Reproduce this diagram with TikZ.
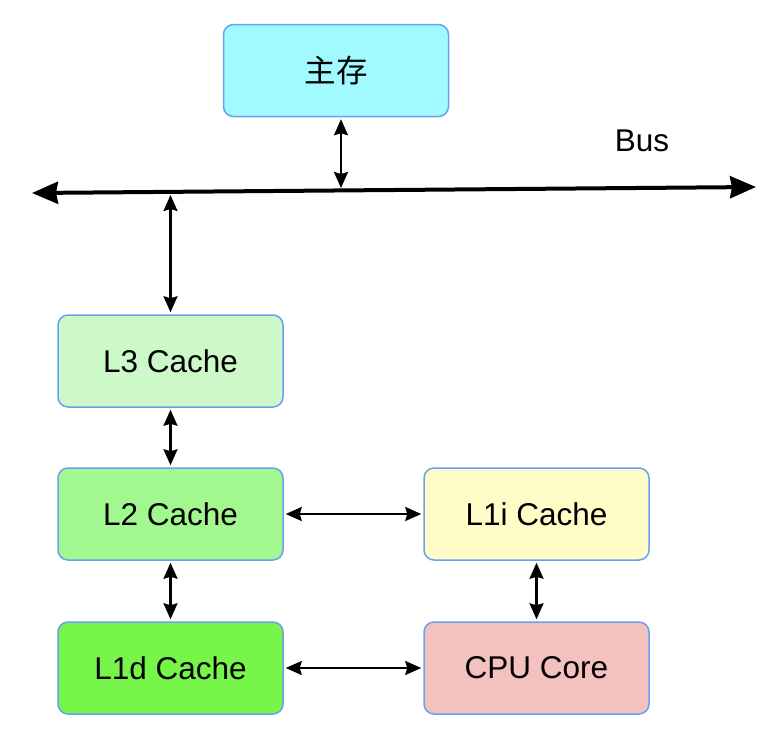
\documentclass[tikz,border=0pt]{standalone}
\usepackage{fontspec}
\setmainfont{Liberation Sans}
\newfontfamily\cjk{Noto Sans CJK SC}
\usetikzlibrary{arrows.meta, positioning, calc}
\definecolor{memcyan}{RGB}{160, 250, 255}
\definecolor{lthree}{RGB}{204, 249, 199}
\definecolor{ltwo}{RGB}{162, 247, 142}
\definecolor{lonedata}{RGB}{120, 245, 75}
\definecolor{loneinst}{RGB}{255, 252, 200}
\definecolor{corepink}{RGB}{243, 194, 191}
\definecolor{edgeblue}{RGB}{105, 160, 240}

\begin{document}
\begin{tikzpicture}[x=1pt, y=-1pt,
  unit/.style={draw=edgeblue, line width=1.5pt, rounded corners=10pt, minimum width=225pt, minimum height=92pt, inner sep=0pt, font=\fontsize{31.5}{36}\selectfont},
  biarrow/.style={line width=2.2pt, shorten <=2pt, shorten >=2pt, {Stealth[length=16pt, width=14pt, inset=2pt]}-{Stealth[length=16pt, width=14pt, inset=2pt]}},
  busline/.style={line width=4pt, {Stealth[length=26pt, width=22pt, inset=2pt]}-{Stealth[length=26pt, width=22pt, inset=2pt]}}]
  \useasboundingbox (0,0) rectangle (770,742);

  % Main memory
  \node[unit, fill=memcyan] (mem) at (336, 70.5) {\cjk 主存};

  % Bus
  \coordinate (busL) at (32, 193);
  \coordinate (busR) at (756, 187);
  \draw[busline] (busL) -- (busR);
  \node[font=\fontsize{31.5}{36}\selectfont] (buslabel) at (642, 141) {Bus};
  \coordinate (tapM) at (341, 190);
  \coordinate (tapL) at (170.5, 193);

  % Caches
  \node[unit, fill=lthree] (lthreec) at (170.5, 361) {L3 Cache};
  \node[unit, fill=ltwo] (ltwoc) at (170.5, 514) {L2 Cache};
  \node[unit, fill=lonedata] (lonedc) at (170.5, 668) {L1d Cache};
  \node[unit, fill=loneinst] (loneic) at (536.5, 514) {L1i Cache};
  \node[unit, fill=corepink] (cpu) at (536.5, 668) {CPU Core};

  % Connections
  \draw[biarrow] (mem.south -| tapM) -- (tapM);
  \draw[biarrow] (tapL) -- (lthreec.north);
  \draw[biarrow] (lthreec) -- (ltwoc);
  \draw[biarrow] (ltwoc) -- (lonedc);
  \draw[biarrow] (ltwoc) -- (loneic);
  \draw[biarrow] (loneic) -- (cpu);
  \draw[biarrow] (lonedc) -- (cpu);
\end{tikzpicture}
\end{document}
